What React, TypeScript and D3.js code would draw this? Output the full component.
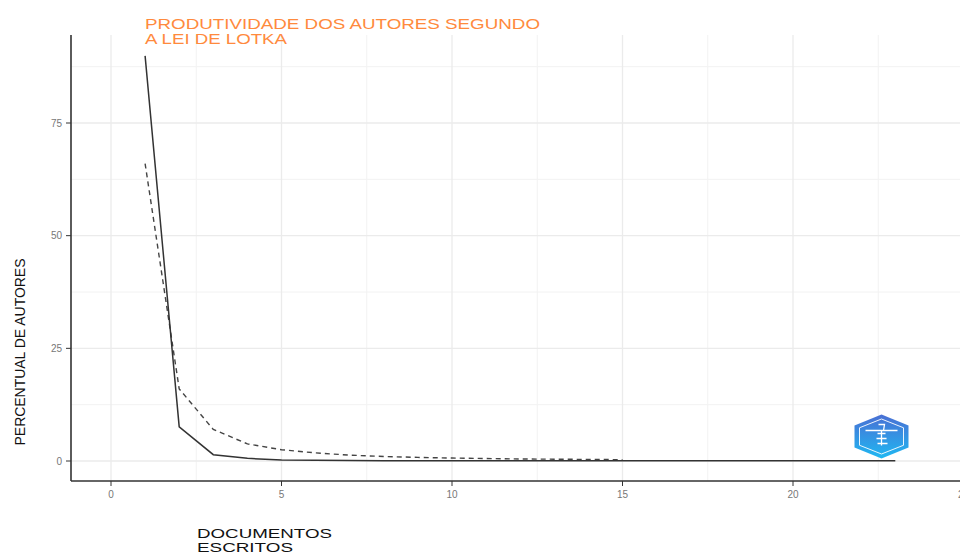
import React from "react";
import * as d3 from "d3";

// observed share of authors by number of documents written
const observedDocs = [1, 2, 3, 4, 5, 6, 7, 8, 9, 10, 12, 14, 23];
const observedPct = [89.9, 7.6, 1.4, 0.6, 0.2, 0.15, 0.1, 0.08, 0.06, 0.05, 0.04, 0.03, 0.03];

// theoretical share according to Lotka's law
const theoryDocs = [1, 2, 3, 4, 5, 6, 7, 8, 9, 10, 11, 12, 13, 14, 15];
const theoryPct = [66, 16, 7, 3.8, 2.5, 1.8, 1.3, 1.0, 0.8, 0.65, 0.55, 0.45, 0.4, 0.35, 0.3];

const xTicks = [0, 5, 10, 15, 20, 25];
const yTicks = [0, 25, 50, 75];
const xMinor = [2.5, 7.5, 12.5, 17.5, 22.5];
const yMinor = [12.5, 37.5, 62.5, 87.5];

const titleLines = ["PRODUTIVIDADE DOS AUTORES SEGUNDO", "A LEI DE LOTKA"];
const xLabelLines = ["DOCUMENTOS", "ESCRITOS"];
const yLabel = "PERCENTUAL DE AUTORES";

const W = 960;
const H = 554;
const panel = { left: 71, right: 980, top: 35, bottom: 481 };

const App = () => {
  const x = d3.scaleLinear().domain([0, 20]).range([111, 793]);
  const y = d3.scaleLinear().domain([0, 75]).range([461, 123]);

  const line = d3
    .line<[number, number]>()
    .x((d) => x(d[0]))
    .y((d) => y(d[1]));

  const observed = observedDocs.map((d, i) => [d, observedPct[i]] as [number, number]);
  const theory = theoryDocs.map((d, i) => [d, theoryPct[i]] as [number, number]);

  const font = "'Liberation Sans', Arial, sans-serif";

  // hexagon logo
  const cx = 881.5;
  const cy = 436.5;
  const hex = (rx: number, ry: number) =>
    [
      [cx, cy - ry],
      [cx + rx, cy - ry / 2],
      [cx + rx, cy + ry / 2],
      [cx, cy + ry],
      [cx - rx, cy + ry / 2],
      [cx - rx, cy - ry / 2],
    ]
      .map((p) => p.join(","))
      .join(" ");

  return (
    <svg
      width={W}
      height={H}
      style={{ position: "absolute", left: 0, top: 0, background: "#fff" }}
      fontFamily={font}
    >
      <defs>
        <linearGradient id="logoGrad" x1="0" y1="0" x2="0" y2="1">
          <stop offset="0%" stopColor="#4a6fd4" />
          <stop offset="100%" stopColor="#1fb8f2" />
        </linearGradient>
        <clipPath id="panelClip">
          <rect x={panel.left} y={panel.top} width={panel.right - panel.left} height={panel.bottom - panel.top} />
        </clipPath>
      </defs>

      {/* grid */}
      <g clipPath="url(#panelClip)">
        {xMinor.map((t) => (
          <line key={"xm" + t} x1={x(t)} x2={x(t)} y1={panel.top} y2={panel.bottom} stroke="#f2f2f2" strokeWidth={1} />
        ))}
        {yMinor.map((t) => (
          <line key={"ym" + t} x1={panel.left} x2={panel.right} y1={y(t)} y2={y(t)} stroke="#f2f2f2" strokeWidth={1} />
        ))}
        {xTicks.map((t) => (
          <line key={"xg" + t} x1={x(t)} x2={x(t)} y1={panel.top} y2={panel.bottom} stroke="#ebebeb" strokeWidth={1.3} />
        ))}
        {yTicks.map((t) => (
          <line key={"yg" + t} x1={panel.left} x2={panel.right} y1={y(t)} y2={y(t)} stroke="#ebebeb" strokeWidth={1.3} />
        ))}
      </g>

      {/* lines */}
      <path d={line(theory) || ""} fill="none" stroke="#444" strokeWidth={1.4} strokeDasharray="5,4" />
      <path d={line(observed) || ""} fill="none" stroke="#333" strokeWidth={1.5} />

      {/* logo */}
      <polygon points={hex(27, 22)} fill="url(#logoGrad)" />
      <polygon points={hex(22, 17.5)} fill="none" stroke="#fff" strokeWidth={1} opacity={0.9} />
      <line x1={cx - 16} x2={cx + 16} y1={cy - 6} y2={cy - 6} stroke="#fff" strokeWidth={1.5} />
      <path
        d={`M${cx - 3},${cy - 12} L${cx + 3},${cy - 12} L${cx + 2},${cy - 6} M${cx - 4},${cy - 3} L${cx + 4},${cy - 3} M${cx},${cy - 6} L${cx},${cy + 9} M${cx - 5},${cy + 2} L${cx + 5},${cy + 2} M${cx - 4},${cy + 7} L${cx + 6},${cy + 7}`}
        stroke="#fff"
        strokeWidth={1.3}
        fill="none"
      />

      {/* axes */}
      <line x1={panel.left} x2={panel.left} y1={panel.top} y2={panel.bottom} stroke="#333" strokeWidth={1.6} />
      <line x1={panel.left} x2={panel.right} y1={panel.bottom} y2={panel.bottom} stroke="#333" strokeWidth={1.6} />
      {yTicks.map((t) => (
        <g key={"yt" + t}>
          <line x1={panel.left - 5} x2={panel.left} y1={y(t)} y2={y(t)} stroke="#333" strokeWidth={1} />
          <text x={panel.left - 9} y={y(t)} dy="0.35em" textAnchor="end" fontSize={10} fill="#777">
            {t}
          </text>
        </g>
      ))}
      {xTicks.map((t) => (
        <g key={"xt" + t}>
          <line x1={x(t)} x2={x(t)} y1={panel.bottom} y2={panel.bottom + 5} stroke="#333" strokeWidth={1} />
          <text x={x(t)} y={panel.bottom + 17} textAnchor="middle" fontSize={10} fill="#777">
            {t}
          </text>
        </g>
      ))}

      {/* title */}
      {titleLines.map((s, i) => (
        <text
          key={s}
          x={145}
          y={28.5 + i * 15.5}
          fontSize={14.5}
          fill="#ff8a3d"
          textLength={i === 0 ? 395 : 142}
          lengthAdjust="spacingAndGlyphs"
        >
          {s}
        </text>
      ))}

      {/* axis labels */}
      {xLabelLines.map((s, i) => (
        <text
          key={s}
          x={197}
          y={538 + i * 14}
          fontSize={13}
          fill="#111"
          textLength={i === 0 ? 135 : 96}
          lengthAdjust="spacingAndGlyphs"
        >
          {s}
        </text>
      ))}
      <text
        transform={`translate(25,${352}) rotate(-90)`}
        textAnchor="middle"
        fontSize={14.5}
        fill="#111"
        textLength={187}
        lengthAdjust="spacingAndGlyphs"
      >
        {yLabel}
      </text>
    </svg>
  );
};

export default App;
